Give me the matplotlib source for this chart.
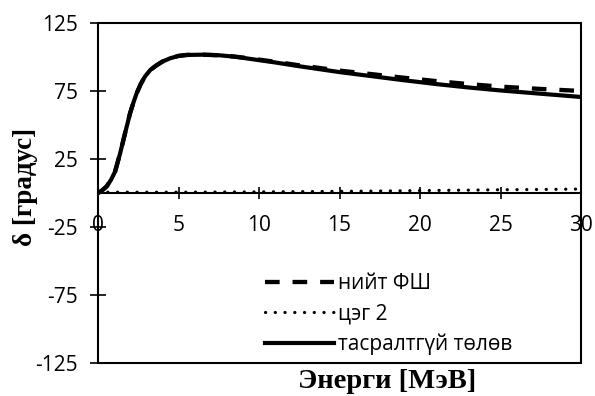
import matplotlib
matplotlib.use("Agg")
import matplotlib.pyplot as plt
from matplotlib.patches import Rectangle

# Phase shift (degrees) versus energy (MeV)
energy = [0, 0.25, 0.54, 0.8, 1.06, 1.37, 1.68, 1.99, 2.2, 2.4, 2.65, 2.92, 3.25, 3.65, 4.0,
          4.47, 5.0, 5.5, 6.5, 7.5, 8.5, 9.4, 11.0, 12.5, 15.0, 17.0, 18.8, 21.0, 23.0, 25.0, 27.5, 30.0]
continuous = [0, 1.8, 4.9, 9.5, 15.7, 29, 43.9, 58.6, 66.5, 73.3, 80, 85.7, 90.5, 94, 96.6,
              99, 100.8, 101.5, 101.7, 101.3, 100.2, 98.7, 96.0, 93.2, 88.9, 85.9, 83.2, 80.1, 77.6, 75.4, 73.0, 70.6]
total_fs = [0, 1.8, 4.9, 9.5, 15.7, 29, 43.9, 58.6, 66.5, 73.3, 80, 85.7, 90.5, 94, 96.6,
            99, 100.8, 101.5, 101.7, 101.3, 100.3, 99.0, 96.5, 93.9, 90.0, 87.4, 85.0, 82.3, 80.1, 78.2, 76.5, 75.0]
point2 = [0.6, 0.6, 0.6, 0.6, 0.6, 0.6, 0.6, 0.6, 0.6, 0.6, 0.6, 0.6, 0.6, 0.6, 0.6,
          0.6, 0.6, 0.6, 0.65, 0.7, 0.75, 0.8, 0.9, 1.0, 1.2, 1.4, 1.6, 1.9, 2.1, 2.4, 2.6, 2.9]

labels = ["нийт ФШ", "цэг 2", "тасралтгүй төлөв"]
xticks = [0, 5, 10, 15, 20, 25, 30]
yticks = [-125, -75, -25, 25, 75, 125]

W, H = 595, 396
fig = plt.figure(figsize=(W / 100, H / 100), dpi=100)
ax = fig.add_axes([98 / W, 1 - 363 / H, (581 - 98) / W, (363 - 23) / H])

ax.plot(energy, total_fs, color="black", lw=3.1, ls=(0, (3.4, 3.0)), label=labels[0], zorder=2)
ax.plot(energy, point2, color="black", lw=2.3, ls=(0, (0.05, 3.0)), dash_capstyle="round",
        label=labels[1], zorder=4)
ax.plot(energy, continuous, color="black", lw=3.0, label=labels[2], zorder=3)

ax.set_xlim(0, 30)
ax.set_ylim(-125, 125)

for s in ["top", "right", "left"]:
    ax.spines[s].set_visible(False)
ax.spines["bottom"].set_position(("data", 0))
ax.spines["bottom"].set_linewidth(1.5)
ax.add_patch(Rectangle((0, 0), 1, 1, transform=ax.transAxes, fill=False,
                       edgecolor="black", lw=1.5, zorder=5, clip_on=False))

ax.set_xticks(xticks)
ax.set_yticks(yticks)
tick_font = dict(family="Open Sans", size=15)
ax.set_xticklabels([str(t) for t in xticks], **tick_font)
ax.set_yticklabels([str(t) for t in yticks], **tick_font)
ax.tick_params(axis="y", direction="inout", length=11.5, width=1.2, color="black", pad=9)
ax.tick_params(axis="x", direction="inout", length=9, width=1.2, color="black", pad=11)

label_font = dict(family="Liberation Serif", weight="bold")
fig.text(387 / W, 1 - 381 / H, "Энерги [МэВ]", ha="center", va="center", size=20.5, **label_font)
fig.text(25 / W, 1 - 187 / H, "δ [градус]", rotation=90, ha="center", va="center", size=19.5, **label_font)

ax.legend(loc="center left", bbox_to_anchor=(265 / W, 1 - 314 / H), bbox_transform=fig.transFigure,
          frameon=False, prop=dict(family="Open Sans", size=15), handlelength=3.3,
          handletextpad=0.22, labelspacing=0.45, borderpad=0, borderaxespad=0)

fig.savefig("out.png", dpi=100)
